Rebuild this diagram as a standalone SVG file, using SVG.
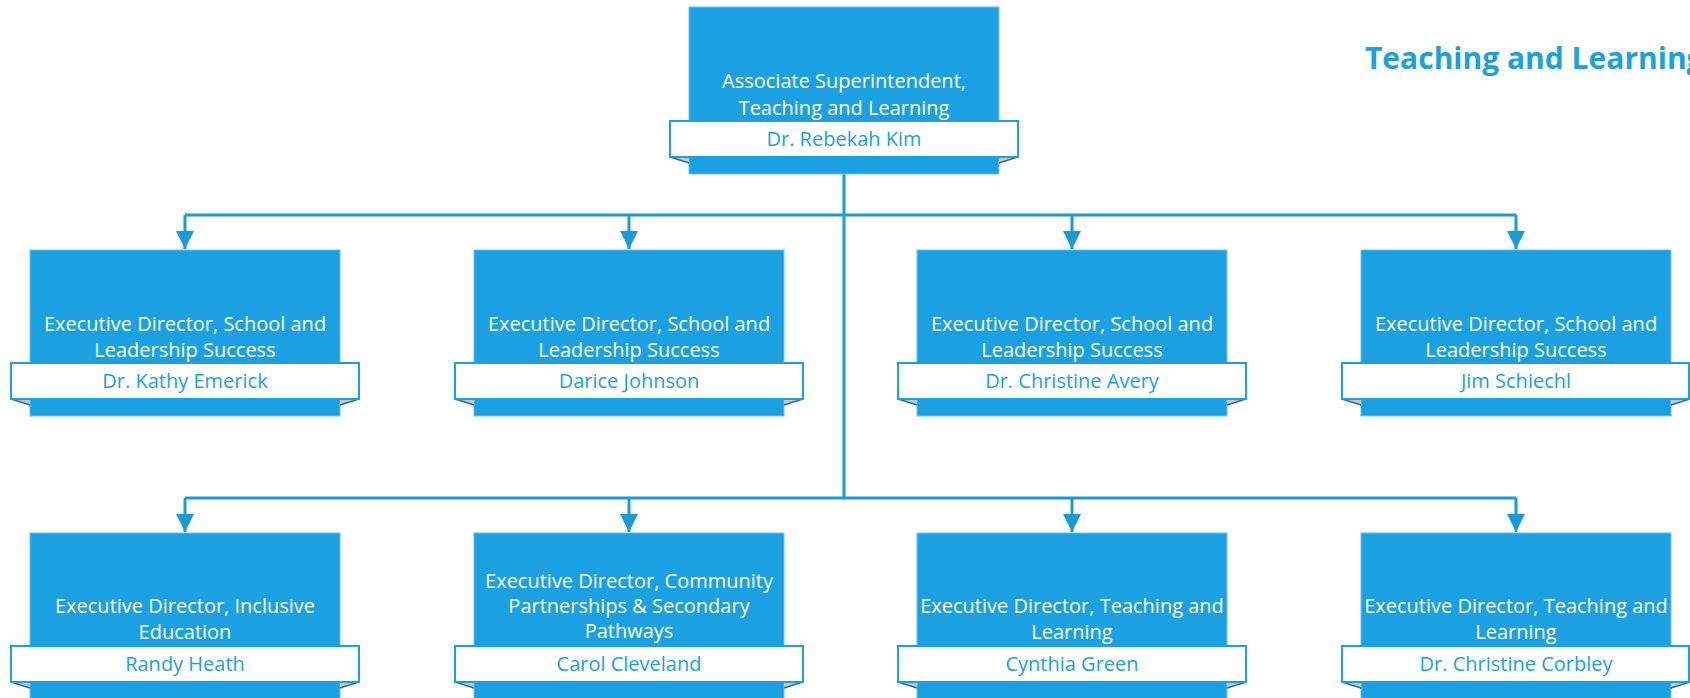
<svg xmlns="http://www.w3.org/2000/svg" width="1690" height="698" viewBox="0 0 1690 698">
<defs>
<style>
.box{fill:#1ba1e2;stroke:#6cc3ee;stroke-width:1}
.band{fill:#ffffff;stroke:#1ba1e2;stroke-width:2}
.fold{fill:#c4c6c8;stroke:none}
.foldline{stroke:#2a6f9a;stroke-width:1.5;fill:none}
.t{font-family:"Open Sans","Noto Sans","DejaVu Sans",sans-serif;font-size:20px;fill:#ffffff;text-anchor:middle}
.n{font-family:"Open Sans","Noto Sans","DejaVu Sans",sans-serif;font-size:20px;fill:#1ba1e2;text-anchor:middle}
.title{font-family:"Open Sans","Noto Sans","DejaVu Sans",sans-serif;font-size:30px;font-weight:bold;fill:#1ba1e2}
.c{stroke:#1b9ad8;stroke-width:3;fill:none}
</style>
<marker id="ah" markerUnits="userSpaceOnUse" markerWidth="18" markerHeight="18" refX="18" refY="9" orient="auto" viewBox="0 0 18 18">
<path d="M0,0 L18,9 L0,18 z" fill="#1b9ad8"/>
</marker>
</defs>
<text class="title" x="1365" y="69">Teaching and Learning</text>
<g id="connectors">
<path class="c" d="M844,174 V498"/>
<path class="c" d="M185,215 H1516"/>
<path class="c" d="M185,215 V249" marker-end="url(#ah)"/>
<path class="c" d="M629,215 V249" marker-end="url(#ah)"/>
<path class="c" d="M1072,215 V249" marker-end="url(#ah)"/>
<path class="c" d="M1516,215 V249" marker-end="url(#ah)"/>
<path class="c" d="M185,498 H1516"/>
<path class="c" d="M185,498 V532" marker-end="url(#ah)"/>
<path class="c" d="M629,498 V532" marker-end="url(#ah)"/>
<path class="c" d="M1072,498 V532" marker-end="url(#ah)"/>
<path class="c" d="M1516,498 V532" marker-end="url(#ah)"/>
</g>
<g id="top">
<rect class="box" x="689" y="7" width="310" height="167"/>
<polygon class="fold" points="670,157 689,157 689,163"/>
<line class="foldline" x1="670" y1="157" x2="689" y2="163"/>
<polygon class="fold" points="1018,157 999,157 999,163"/>
<line class="foldline" x1="1018" y1="157" x2="999" y2="163"/>
<rect class="band" x="670" y="121" width="348" height="36"/>
<text class="t" x="844" y="88">Associate Superintendent,</text>
<text class="t" x="844" y="115">Teaching and Learning</text>
<text class="n" x="844" y="146">Dr. Rebekah Kim</text>
</g>
<g id="r1c1">
<rect class="box" x="30" y="250" width="310" height="166"/>
<polygon class="fold" points="11,399 30,399 30,405"/><line class="foldline" x1="11" y1="399" x2="30" y2="405"/>
<polygon class="fold" points="359,399 340,399 340,405"/><line class="foldline" x1="359" y1="399" x2="340" y2="405"/>
<rect class="band" x="11" y="363" width="348" height="36"/>
<text class="t" x="185" y="331">Executive Director, School and</text>
<text class="t" x="185" y="357">Leadership Success</text>
<text class="n" x="185" y="388">Dr. Kathy Emerick</text>
</g>
<g id="r1c2">
<rect class="box" x="474" y="250" width="310" height="166"/>
<polygon class="fold" points="455,399 474,399 474,405"/><line class="foldline" x1="455" y1="399" x2="474" y2="405"/>
<polygon class="fold" points="803,399 784,399 784,405"/><line class="foldline" x1="803" y1="399" x2="784" y2="405"/>
<rect class="band" x="455" y="363" width="348" height="36"/>
<text class="t" x="629" y="331">Executive Director, School and</text>
<text class="t" x="629" y="357">Leadership Success</text>
<text class="n" x="629" y="388">Darice Johnson</text>
</g>
<g id="r1c3">
<rect class="box" x="917" y="250" width="310" height="166"/>
<polygon class="fold" points="898,399 917,399 917,405"/><line class="foldline" x1="898" y1="399" x2="917" y2="405"/>
<polygon class="fold" points="1246,399 1227,399 1227,405"/><line class="foldline" x1="1246" y1="399" x2="1227" y2="405"/>
<rect class="band" x="898" y="363" width="348" height="36"/>
<text class="t" x="1072" y="331">Executive Director, School and</text>
<text class="t" x="1072" y="357">Leadership Success</text>
<text class="n" x="1072" y="388">Dr. Christine Avery</text>
</g>
<g id="r1c4">
<rect class="box" x="1361" y="250" width="310" height="166"/>
<polygon class="fold" points="1342,399 1361,399 1361,405"/><line class="foldline" x1="1342" y1="399" x2="1361" y2="405"/>
<polygon class="fold" points="1690,399 1671,399 1671,405"/><line class="foldline" x1="1690" y1="399" x2="1671" y2="405"/>
<rect class="band" x="1342" y="363" width="347" height="36"/>
<text class="t" x="1516" y="331">Executive Director, School and</text>
<text class="t" x="1516" y="357">Leadership Success</text>
<text class="n" x="1516" y="388">Jim Schiechl</text>
</g>
<g id="r2c1">
<rect class="box" x="30" y="533" width="310" height="167"/>
<polygon class="fold" points="11,682 30,682 30,688"/><line class="foldline" x1="11" y1="682" x2="30" y2="688"/>
<polygon class="fold" points="359,682 340,682 340,688"/><line class="foldline" x1="359" y1="682" x2="340" y2="688"/>
<rect class="band" x="11" y="646" width="348" height="36"/>
<text class="t" x="185" y="613">Executive Director, Inclusive</text>
<text class="t" x="185" y="639">Education</text>
<text class="n" x="185" y="671">Randy Heath</text>
</g>
<g id="r2c2">
<rect class="box" x="474" y="533" width="310" height="167"/>
<polygon class="fold" points="455,682 474,682 474,688"/><line class="foldline" x1="455" y1="682" x2="474" y2="688"/>
<polygon class="fold" points="803,682 784,682 784,688"/><line class="foldline" x1="803" y1="682" x2="784" y2="688"/>
<rect class="band" x="455" y="646" width="348" height="36"/>
<text class="t" x="629" y="588">Executive Director, Community</text>
<text class="t" x="629" y="613">Partnerships &amp; Secondary</text>
<text class="t" x="629" y="638">Pathways</text>
<text class="n" x="629" y="671">Carol Cleveland</text>
</g>
<g id="r2c3">
<rect class="box" x="917" y="533" width="310" height="167"/>
<polygon class="fold" points="898,682 917,682 917,688"/><line class="foldline" x1="898" y1="682" x2="917" y2="688"/>
<polygon class="fold" points="1246,682 1227,682 1227,688"/><line class="foldline" x1="1246" y1="682" x2="1227" y2="688"/>
<rect class="band" x="898" y="646" width="348" height="36"/>
<text class="t" x="1072" y="613">Executive Director, Teaching and</text>
<text class="t" x="1072" y="639">Learning</text>
<text class="n" x="1072" y="671">Cynthia Green</text>
</g>
<g id="r2c4">
<rect class="box" x="1361" y="533" width="310" height="167"/>
<polygon class="fold" points="1342,682 1361,682 1361,688"/><line class="foldline" x1="1342" y1="682" x2="1361" y2="688"/>
<polygon class="fold" points="1690,682 1671,682 1671,688"/><line class="foldline" x1="1690" y1="682" x2="1671" y2="688"/>
<rect class="band" x="1342" y="646" width="347" height="36"/>
<text class="t" x="1516" y="613">Executive Director, Teaching and</text>
<text class="t" x="1516" y="639">Learning</text>
<text class="n" x="1516" y="671">Dr. Christine Corbley</text>
</g>
</svg>
